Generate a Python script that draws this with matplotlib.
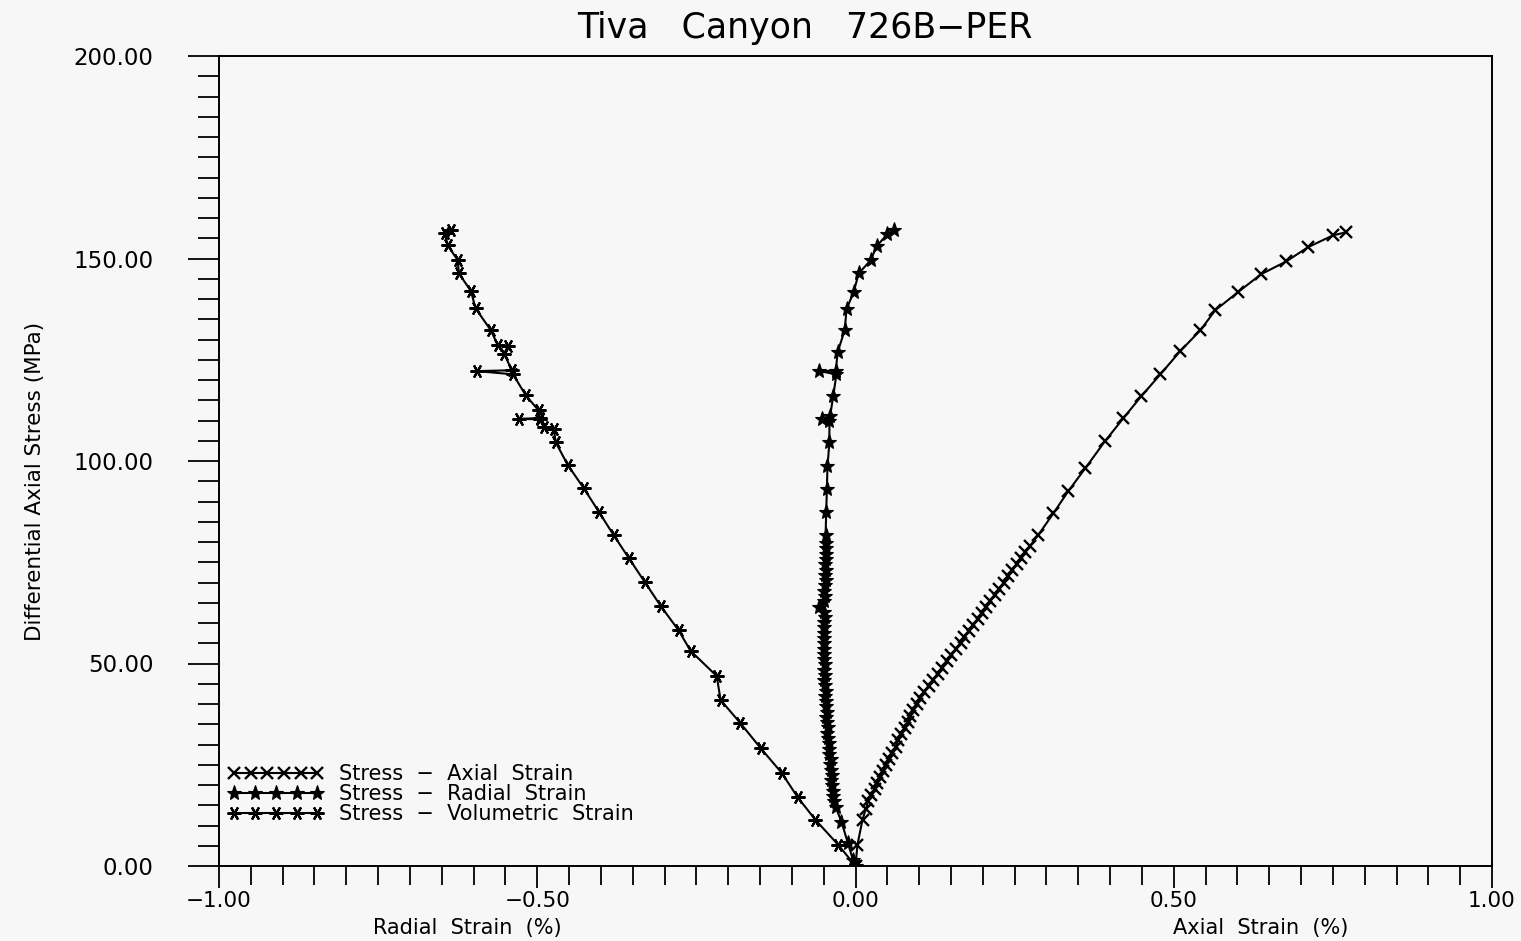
import matplotlib
matplotlib.use("Agg")
import matplotlib.pyplot as plt
from matplotlib.ticker import MultipleLocator, FixedLocator, FixedFormatter
from matplotlib.legend_handler import HandlerLine2D

# ---- Stress - axial strain (x markers) ----
axial_strain = [0.000, 0.003, 0.011, 0.016,
                0.020, 0.025, 0.030, 0.034, 0.039, 0.043, 0.048, 0.053, 0.058, 0.063,
                0.067, 0.072, 0.077, 0.082, 0.086, 0.091, 0.096, 0.101, 0.108, 0.115,
                0.122, 0.129, 0.136, 0.143, 0.150, 0.158, 0.165, 0.171, 0.178, 0.185,
                0.192, 0.198, 0.205, 0.212, 0.219, 0.226, 0.233, 0.239, 0.246, 0.253,
                0.260, 0.267, 0.274,
                0.287, 0.311, 0.334, 0.361, 0.392, 0.421, 0.449, 0.479, 0.510, 0.542,
                0.565, 0.601, 0.637, 0.677, 0.711, 0.750, 0.771]
axial_stress = [0.0, 5.2, 11.4, 14.0,
                16.0, 17.5, 19.0, 20.5, 22.0, 23.5, 25.0, 26.5, 28.0, 29.5,
                31.0, 32.5, 34.0, 35.5, 37.0, 38.5, 40.0, 41.5, 43.0, 44.5,
                46.0, 47.5, 49.0, 50.5, 52.0, 53.5, 55.0, 56.5, 58.0, 59.5,
                61.0, 62.5, 64.0, 65.5, 67.0, 68.5, 70.0, 71.5, 73.0, 74.5,
                76.0, 77.5, 79.0,
                81.7, 87.1, 92.5, 98.2, 104.9, 110.6, 116.0, 121.4, 127.1, 132.3,
                137.2, 141.7, 146.1, 149.3, 152.8, 155.7, 156.5]

# ---- Stress - radial strain (stars) ----
radial_strain = [0.000, -0.004, -0.012, -0.022, -0.031,
                 -0.034, -0.036, -0.035, -0.037, -0.038, -0.037, -0.039, -0.040, -0.039,
                 -0.041, -0.042, -0.041, -0.043, -0.044, -0.043, -0.045, -0.046, -0.045,
                 -0.047, -0.046, -0.048, -0.047, -0.048, -0.049, -0.048, -0.049, -0.048,
                 -0.050, -0.049, -0.050, -0.049, -0.050, -0.049, -0.050, -0.049, -0.048,
                 -0.050, -0.058, -0.049, -0.048, -0.049, -0.048, -0.047, -0.048, -0.047,
                 -0.048, -0.047, -0.046, -0.047, -0.046,
                 -0.047, -0.046, -0.045, -0.044, -0.041, -0.041, -0.052, -0.040, -0.035,
                 -0.030, -0.057, -0.031, -0.028, -0.017, -0.014, -0.003, 0.005, 0.024,
                 0.033, 0.050, 0.061]
radial_stress = [0.0, 1.5, 5.7, 10.9, 14.5,
                 16.0, 17.3, 18.6, 19.9, 21.2, 22.5, 23.8, 25.1, 26.4,
                 27.7, 29.0, 30.3, 31.6, 32.9, 34.2, 35.5, 36.8, 38.1,
                 39.4, 40.7, 42.0, 43.3, 44.6, 45.9, 47.2, 48.5, 49.8,
                 51.1, 52.4, 53.7, 55.0, 56.3, 57.6, 58.9, 60.2, 61.5,
                 62.8, 64.0, 65.4, 66.7, 68.0, 69.3, 70.6, 71.9, 73.2,
                 74.5, 75.8, 77.1, 78.4, 79.7,
                 81.7, 87.4, 93.0, 98.7, 104.6, 110.0, 110.4, 111.0, 116.0,
                 121.4, 122.2, 122.3, 126.9, 132.3, 137.5, 141.7, 146.3, 149.6,
                 153.0, 156.0, 157.0]

# ---- Stress - volumetric strain (asterisks) ----
vol_strain = [0.000, -0.027, -0.063, -0.091, -0.116, -0.149, -0.181, -0.212, -0.218,
              -0.259, -0.278, -0.306, -0.331, -0.356, -0.380, -0.403, -0.427, -0.452,
              -0.471, -0.474, -0.490, -0.496, -0.529, -0.496, -0.498, -0.518, -0.538,
              -0.595, -0.540, -0.552, -0.546, -0.562, -0.573, -0.597, -0.604, -0.623,
              -0.625, -0.641, -0.645, -0.636]
vol_stress = [0.0, 5.2, 11.4, 17.0, 23.0, 29.1, 35.3, 41.0, 46.9,
              53.1, 58.2, 64.2, 70.1, 76.0, 81.7, 87.4, 93.3, 99.0,
              104.6, 107.9, 108.5, 110.3, 110.4, 110.6, 112.5, 116.2, 121.4,
              122.2, 122.4, 126.5, 128.4, 128.6, 132.3, 137.7, 141.9, 146.3,
              149.6, 153.3, 156.2, 157.0]

x_ticks = [-1.0, -0.5, 0.0, 0.5, 1.0]
x_tick_labels = ["\u22121.00", "\u22120.50", "0.00", "0.50", "1.00"]
y_ticks = [0, 50, 100, 150, 200]
y_tick_labels = ["0.00", "50.00", "100.00", "150.00", "200.00"]

bg = "#f7f7f7"
fig = plt.figure(figsize=(15.21, 9.41), dpi=100, facecolor=bg)
ax = fig.add_axes([219 / 1521, 75 / 941, 1273 / 1521, 810 / 941], facecolor=bg)

l_ax, = ax.plot(axial_strain, axial_stress, color="black", lw=1.5,
                marker="x", ms=8, mew=1.7, label="Stress  \u2212  Axial  Strain")
l_rad, = ax.plot(radial_strain, radial_stress, color="black", lw=1.5,
                 marker="*", ms=11, mew=0.8, label="Stress  \u2212  Radial  Strain")
l_vol, = ax.plot(vol_strain, vol_stress, color="black", lw=1.5,
                 marker=(6, 2, 90), ms=10, mew=1.6,
                 label="Stress  \u2212  Volumetric  Strain")

ax.set_xlim(-1, 1)
ax.set_ylim(0, 200)
ax.xaxis.set_major_locator(FixedLocator(x_ticks))
ax.xaxis.set_major_formatter(FixedFormatter(x_tick_labels))
ax.yaxis.set_major_locator(FixedLocator(y_ticks))
ax.yaxis.set_major_formatter(FixedFormatter(y_tick_labels))
ax.xaxis.set_minor_locator(MultipleLocator(0.05))
ax.yaxis.set_minor_locator(MultipleLocator(5))

ax.tick_params(which="both", direction="out", width=1.3)
ax.tick_params(axis="x", which="major", length=16, pad=2, labelsize=15.5)
ax.tick_params(axis="x", which="minor", length=14)
ax.tick_params(axis="y", which="major", length=22, pad=25, labelsize=16.5)
ax.tick_params(axis="y", which="minor", length=15)
for s in ax.spines.values():
    s.set_linewidth(1.4)

fig.text(805 / 1521, 1 - 28 / 941, "Tiva   Canyon   726B\u2212PER",
         ha="center", va="center", fontsize=25)
ax.set_ylabel("Differential Axial Stress (MPa)", fontsize=15.5)
ax.yaxis.set_label_coords(-0.137, 0.475)
ax.text(0.195, -0.077, "Radial  Strain  (%)", transform=ax.transAxes,
        ha="center", va="center", fontsize=15)
ax.text(0.818, -0.077, "Axial  Strain  (%)", transform=ax.transAxes,
        ha="center", va="center", fontsize=15)

ax.legend(handles=[l_ax, l_rad, l_vol], loc="lower left",
          bbox_to_anchor=(0.007, 0.052), frameon=False, fontsize=15,
          handlelength=4.6, handletextpad=0.75, labelspacing=0.0,
          borderpad=0, borderaxespad=0,
          handler_map={l_ax: HandlerLine2D(numpoints=6),
                       l_rad: HandlerLine2D(numpoints=5),
                       l_vol: HandlerLine2D(numpoints=5)})

fig.savefig("out.png", dpi=100, facecolor=bg)
